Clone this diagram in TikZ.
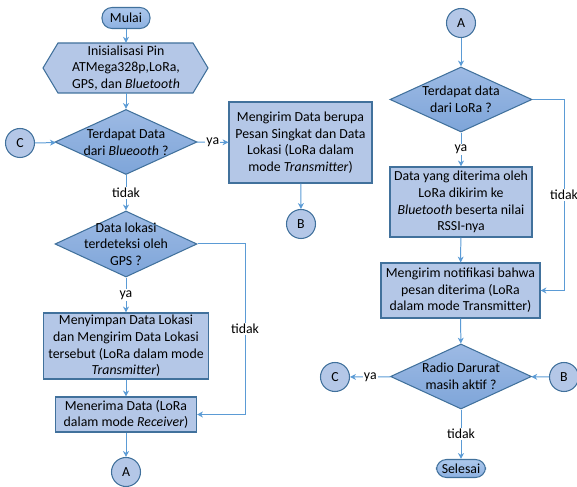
\documentclass[tikz,border=0pt]{standalone}
\usepackage{fontspec}
\setmainfont{Carlito}
\usetikzlibrary{arrows.meta, shapes.geometric, calc}

\definecolor{flowline}{HTML}{5B9BD5}
\definecolor{flowedge}{HTML}{41719C}
\definecolor{boxfill}{HTML}{B4C7E7}
\definecolor{decitop}{HTML}{9DBAE4}
\definecolor{decibot}{HTML}{7EA5D9}
\definecolor{termtop}{HTML}{ADC8EC}
\definecolor{termbot}{HTML}{8DB1E1}

\tikzset{
  txt/.style={align=center, font=\fontsize{11.8}{14.2}\selectfont},
  base/.style={txt, draw=flowedge, line width=0.9pt, inner sep=0pt},
  terminal/.style={base, rectangle, rounded corners=3mm, top color=termtop, bottom color=termbot},
  process/.style={base, rectangle, fill=boxfill},
  decision/.style={base, diamond, top color=decitop, bottom color=decibot,
    minimum width=4.26cm, minimum height=1.95cm},
  linkpt/.style={base, circle, fill=boxfill, minimum size=0.87cm},
  flow/.style={draw=flowline, line width=0.85pt, -{Stealth[length=5pt, width=5pt, inset=1.5pt]}},
  choice/.style={txt, fill=white, inner sep=1pt}
}

\begin{document}
\begin{tikzpicture}[x=0.03cm, y=-0.03cm]
  \useasboundingbox (0,0) rectangle (577,487);

  % ---- left column
  \node[terminal, minimum width=1.44cm, minimum height=0.63cm] (mulai) at (126,18) {Mulai};
  % hexagon for the initialisation step
  \path[fill=boxfill, draw=flowedge, line width=0.9pt]
    (43,68) -- (58,43) -- (193,43) -- (208,68) -- (193,93) -- (58,93) -- cycle;
  \node[txt, minimum width=4.95cm, minimum height=1.5cm, inner sep=0pt] (init) at (126,68)
    {Inisialisasi Pin\\ATMega328p,LoRa,\\GPS, dan \textit{Bluetooth}};
  \node[decision, label={[txt]center:Terdapat Data\\dari \textit{Blueooth} ?}] (cekbt) at (126,142) {};
  \node[linkpt] (cleft) at (20,143) {C};
  \node[process, minimum width=4.29cm, minimum height=2.43cm] (kirim) at (300.5,142.5)
    {Mengirim Data berupa\\Pesan Singkat dan Data\\Lokasi (LoRa dalam\\mode \textit{Transmitter})};
  \node[linkpt] (bleft) at (301,224) {B};
  \node[decision, minimum height=1.98cm, label={[txt]center:Data lokasi\\terdeteksi oleh\\GPS ?}] (cekgps) at (126,244) {};
  \node[process, minimum width=4.95cm, minimum height=1.98cm] (simpan) at (126,346)
    {Menyimpan Data Lokasi\\dan Mengirim Data Lokasi\\tersebut (LoRa dalam mode\\\textit{Transmitter})};
  \node[process, minimum width=4.23cm, minimum height=1.05cm] (terima) at (126,414.5)
    {Menerima Data (LoRa\\dalam mode \textit{Receiver})};
  \node[linkpt] (aleft) at (126,472) {A};

  % ---- right column
  \node[linkpt] (aright) at (461,23) {A};
  \node[decision, label={[txt]center:Terdapat data\\dari LoRa ?}] (ceklora) at (461,99.5) {};
  \node[process, minimum width=4.26cm, minimum height=2.1cm] (teruskan) at (461,202)
    {Data yang diterima oleh\\LoRa dikirim ke\\\textit{Bluetooth} beserta nilai\\RSSI-nya};
  \node[process, minimum width=4.77cm, minimum height=1.65cm] (notif) at (460.5,290.5)
    {Mengirim notifikasi bahwa\\pesan diterima (LoRa\\dalam mode Transmitter)};
  \node[decision, minimum width=4.23cm, label={[txt]center:Radio Darurat\\masih aktif ?}] (aktif) at (461,376.5) {};
  \node[linkpt] (cright) at (335,377) {C};
  \node[linkpt] (bright) at (564,377) {B};
  \node[terminal, minimum width=1.47cm, minimum height=0.54cm] (selesai) at (461,468.5) {Selesai};

  \coordinate (gpsno) at (245,244);
  \coordinate (lorano) at (564,99.5);

  % ---- connectors
  \draw[flow] (mulai) -- (init);
  \draw[flow] (init) -- (cekbt);
  \draw[flow] (cleft) -- (cekbt);
  \draw[flow] (cekbt) -- node[choice] {ya} (kirim);
  \draw[flow] (kirim) -- (bleft);
  \draw[flow] (cekbt) -- node[choice] {tidak} (cekgps);
  \draw[flow] (cekgps) -- node[choice] {ya} (simpan);
  \draw[flow] (cekgps.east) -- (gpsno) |- node[choice, pos=0.25] {tidak} (terima.east);
  \draw[flow] (simpan) -- (terima);
  \draw[flow] (terima) -- (aleft);

  \draw[flow] (aright) -- (ceklora);
  \draw[flow] (ceklora) -- node[choice] {ya} (teruskan);
  \draw[flow] (ceklora.east) -- (lorano) |- node[choice, pos=0.25] {tidak} (notif.east);
  \draw[flow] (teruskan) -- (notif);
  \draw[flow] (notif) -- (aktif);
  \draw[flow] (aktif) -- node[choice] {ya} (cright);
  \draw[flow] (bright) -- (aktif);
  \draw[flow] (aktif) -- node[choice] {tidak} (selesai);
\end{tikzpicture}
\end{document}
